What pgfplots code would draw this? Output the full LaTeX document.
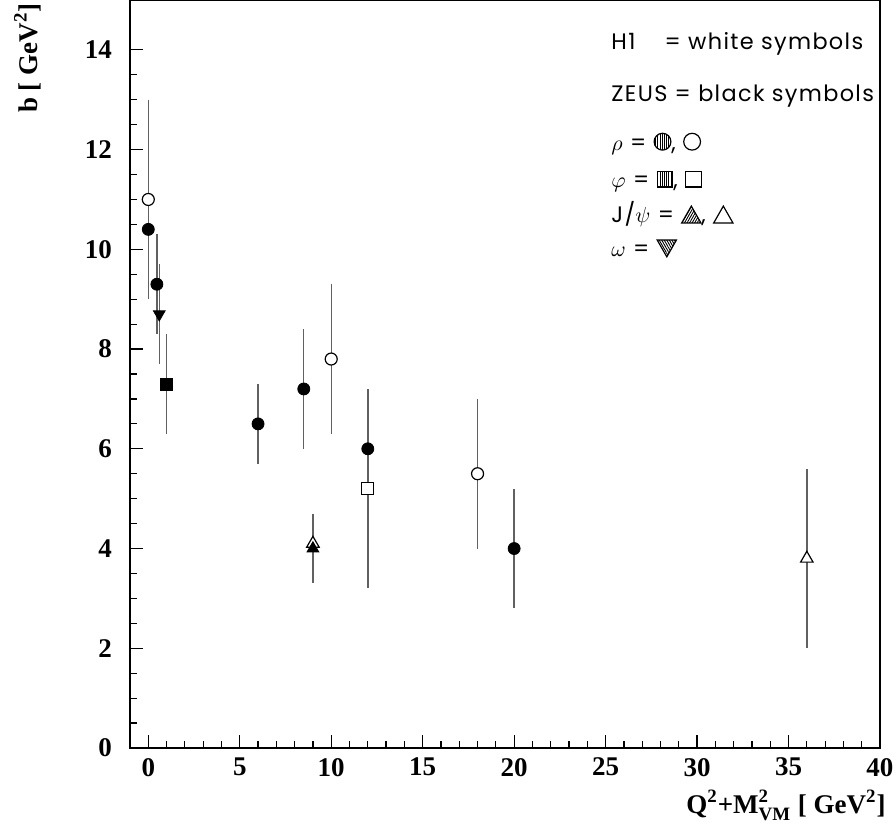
\documentclass[border=0pt]{standalone}
\usepackage{amsmath}
\usepackage{pgfplots}
\pgfplotsset{compat=1.18}
\usepackage{pgfplotstable}
\usepackage{fontspec}
\setmainfont{Liberation Serif}
\newfontfamily\legfont[LetterSpace=6]{Poppins}
\usetikzlibrary{patterns.meta}

% x y ep em
\pgfplotstableread{
x y ep em
0 10.4 1.2 1.4
0.47 9.3 1.0 1.0
6 6.5 0.8 0.8
8.5 7.2 1.2 1.2
12 6.0 0.8 0.8
20 4.0 1.2 1.2
}\zeusrho
\pgfplotstableread{
x y ep em
1.0 7.3 1.0 1.0
}\zeusphi
\pgfplotstableread{
x y ep em
9 4.0 0.7 0.7
}\zeuspsi
\pgfplotstableread{
x y ep em
0.6 8.7 1.0 1.0
}\zeusomega
\pgfplotstableread{
x y ep em
0 11.0 2.0 2.0
10 7.8 1.5 1.5
18 5.5 1.5 1.5
}\hrho
\pgfplotstableread{
x y ep em
12 5.2 2.0 2.0
}\hphi
\pgfplotstableread{
x y ep em
9 4.1 0.3 0.3
36 3.8 1.8 1.8
}\hpsi

\newsavebox\symA
\newsavebox\symAo
\newsavebox\symB
\newsavebox\symBo
\newsavebox\symC
\newsavebox\symCo
\newsavebox\symD

\pgfplotsset{
  eb/.style={error bars/.cd, y dir=both, y explicit, error mark=none,
    error bar style={black!62, line width=0.7pt}},
}

\begin{document}%
\sbox\symA{\tikz[baseline=0pt]{\draw[line width=0.6pt, pattern={Lines[angle=90,distance=1.1pt,line width=0.45pt]}] (4.2pt,4.2pt) circle (4.2pt);}}%
\sbox\symAo{\tikz[baseline=0pt]{\draw[line width=0.6pt] (4.2pt,4.2pt) circle (4.2pt);}}%
\sbox\symB{\tikz[baseline=0pt]{\draw[line width=0.6pt, pattern={Lines[angle=90,distance=1.1pt,line width=0.45pt]}] (0,0) rectangle (7.8pt,7.8pt);}}%
\sbox\symBo{\tikz[baseline=0pt]{\draw[line width=0.6pt] (0,0) rectangle (7.8pt,7.8pt);}}%
\sbox\symC{\tikz[baseline=0pt]{\draw[line width=0.6pt, pattern={Lines[angle=60,distance=1.1pt,line width=0.45pt]}] (0,0) -- (9.6pt,0) -- (4.8pt,8.4pt) -- cycle;}}%
\sbox\symCo{\tikz[baseline=0pt]{\draw[line width=0.6pt] (0,0) -- (9.6pt,0) -- (4.8pt,8.4pt) -- cycle;}}%
\sbox\symD{\tikz[baseline=0pt]{\draw[line width=0.6pt, pattern={Lines[angle=120,distance=1.1pt,line width=0.45pt]}] (0,8.4pt) -- (9.6pt,8.4pt) -- (4.8pt,0) -- cycle;}}%
\begin{tikzpicture}
\useasboundingbox (-65pt,-42pt) rectangle (382.5pt,374pt);
\begin{axis}[
  at={(0pt,0pt)}, anchor=south west,
  scale only axis, width=375pt, height=374pt,
  xmin=-1, xmax=40, ymin=0, ymax=15,
  xtick={0,5,...,40}, ytick={0,2,...,14},
  minor x tick num=4, minor y tick num=3,
  tick align=inside, xtick pos=bottom, ytick pos=left,
  major tick length=6.5pt, minor tick length=3.5pt,
  axis line style={line width=0.7pt},
  every tick/.style={black, line width=0.6pt},
  tick label style={font=\bfseries\fontsize{13.5}{14}\selectfont},
  /pgf/number format/assume math mode=true,
  xticklabel style={yshift=-1.5pt},
  yticklabel style={xshift=-5.5pt},
  clip=false,
]
\addplot[only marks, mark=*, mark size=3pt, mark options={fill=white, draw=black, line width=0.6pt}, eb]
  table[x=x, y=y, y error plus=ep, y error minus=em] {\hrho};
\addplot[only marks, mark=square*, mark size=3pt, mark options={fill=white, draw=black, line width=0.6pt}, eb]
  table[x=x, y=y, y error plus=ep, y error minus=em] {\hphi};
\addplot[only marks, mark=triangle*, mark size=3.6pt, mark options={fill=white, draw=black, line width=0.6pt}, eb]
  table[x=x, y=y, y error plus=ep, y error minus=em] {\hpsi};
\addplot[only marks, mark=*, mark size=3pt, mark options={fill=black, draw=black}, eb]
  table[x=x, y=y, y error plus=ep, y error minus=em] {\zeusrho};
\addplot[only marks, mark=square*, mark size=3pt, mark options={fill=black, draw=black}, eb]
  table[x=x, y=y, y error plus=ep, y error minus=em] {\zeusphi};
\addplot[only marks, mark=triangle*, mark size=3.4pt, mark options={fill=black, draw=black}, eb]
  table[x=x, y=y, y error plus=ep, y error minus=em] {\zeuspsi};
\addplot[only marks, mark=triangle*, mark size=3.4pt, mark options={fill=black, draw=black, rotate=180}, eb]
  table[x=x, y=y, y error plus=ep, y error minus=em] {\zeusomega};

\begin{scope}[every node/.style={anchor=base west, inner sep=0pt, font=\legfont\fontsize{11.2}{12}\selectfont}]
\node at (axis cs:25.3,14.0) {H1\hspace{1.3em}= white symbols};
\node at (axis cs:25.3,12.96) {ZEUS = black symbols};
\node at (axis cs:25.3,11.99) {$\rho$ = \usebox\symA, \usebox\symAo};
\node at (axis cs:25.3,11.25) {$\varphi$ = \usebox\symB, \usebox\symBo};
\node at (axis cs:25.3,10.53) {J/$\psi$ = \usebox\symC, \usebox\symCo};
\node at (axis cs:25.3,9.85) {$\omega$ = \usebox\symD};
\end{scope}
\end{axis}
\node[rotate=90, anchor=base east, inner sep=0pt, font=\bfseries\fontsize{13.5}{14}\selectfont]
  at (-46.5pt,372.5pt) {b [ GeV$^{\textbf{2}}$]};
\node[anchor=base east, inner sep=0pt, font=\bfseries\fontsize{13.5}{14}\selectfont]
  at (378pt,-32.5pt) {Q$^{\textbf{2}}$+M$^{\textbf{2}}_{\textbf{VM}}$ [ GeV$^{\textbf{2}}$]};
\end{tikzpicture}%
\end{document}
